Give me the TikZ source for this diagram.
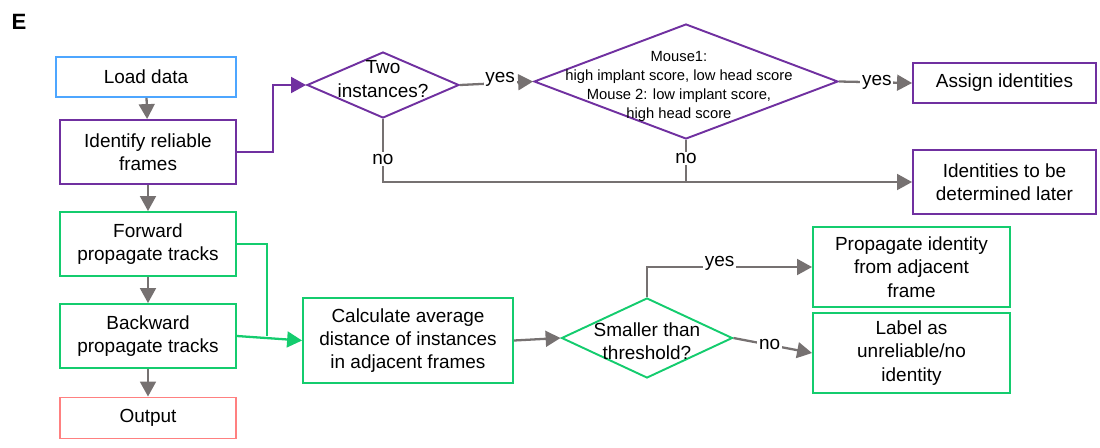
\documentclass[tikz,border=0pt]{standalone}
\usepackage{fontspec}
\setmainfont{Liberation Sans}
\usetikzlibrary{%
	arrows.meta,%
	shapes.geometric%
}
\definecolor{LoadBlue}{HTML}{4DA6FF}
\definecolor{IdPurple}{HTML}{7030A0}
\definecolor{TrackGreen}{HTML}{14CC6E}
\definecolor{OutRed}{HTML}{FF8080}
\definecolor{ArrowGrey}{HTML}{767171}
\tikzset{
	box/.style={draw,line width=1.1pt,align=center,inner sep=2pt},
	decision/.style={draw,shape=diamond,line width=1.1pt,inner sep=0pt},
	flow/.style={draw=ArrowGrey,line width=1.3pt,-{Triangle[length=8.5pt,width=9pt]}},
	cond/.style={fill=white,inner sep=1pt}
}

\begin{document}
\begin{tikzpicture}[x=0.02cm,y=-0.02cm,font=\fontsize{10.8}{13.3}\selectfont]
\useasboundingbox (0,0) rectangle (1100,447);
% Panel letter
\node (panel) at (19,22) {\bfseries\fontsize{12.6}{15}\selectfont E};
% Main column
\node (load) at (146,77) [box,draw=LoadBlue,minimum width=3.6cm,minimum height=0.8cm] {Load data};
\node (ident) at (148,152) [box,draw=IdPurple,minimum width=3.52cm,minimum height=1.28cm] {Identify reliable\\frames};
\node (fwd) at (148,244) [box,draw=TrackGreen,minimum width=3.52cm,minimum height=1.28cm] {Forward\\propagate tracks};
\node (bwd) at (148,336) [box,draw=TrackGreen,minimum width=3.52cm,minimum height=1.28cm] {Backward\\propagate tracks};
\node (out) at (148,418) [box,draw=OutRed,minimum width=3.52cm,minimum height=0.82cm] {Output};
\draw [flow] (load) -- (ident);
\draw [flow] (ident) -- (fwd);
\draw [flow] (fwd) -- (bwd);
\draw [flow] (bwd) -- (out);
% Identity assignment
\node (twoinst) at (383,85) [decision,draw=IdPurple,minimum width=3.04cm,minimum height=1.32cm,
	label={[align=center,yshift=3.4pt]center:Two\\instances?}] {};
\node (mouse) at (686,81.5) [decision,draw=IdPurple,minimum width=6.08cm,minimum height=2.3cm,
	label={[align=center,xshift=-4pt,yshift=-2.7pt,font=\fontsize{8.4}{10.9}\selectfont]center:{Mouse1:\\high implant score, low head score\\Mouse 2: low implant score,\\high head score}}] {};
\node (assign) at (1004.5,83) [box,draw=IdPurple,minimum width=3.66cm,minimum height=0.8cm] {Assign identities};
\node (later) at (1004.5,182) [box,draw=IdPurple,minimum width=3.66cm,minimum height=1.28cm] {Identities to be\\determined later};
\draw [draw=IdPurple,line width=1.3pt,-{Triangle[length=8.5pt,width=9pt]}] (ident.east) -- ++(36,0) |- (twoinst.west);
\draw [flow] (twoinst.east) -- node [cond,pos=0.55,yshift=2pt] {yes} (mouse.west);
\draw [flow] (mouse.east) -- node [cond,pos=0.52] {yes} (assign.west);
\draw [flow] (twoinst.south) |- node [cond,pos=0.32] {no} (later.west);
\draw [draw=ArrowGrey,line width=1.3pt] (mouse.south) -- node [cond,pos=0.44] {no} (mouse.south |- later.west);
% Track propagation
\node (calc) at (408,340.5) [box,draw=TrackGreen,minimum width=4.2cm,minimum height=1.7cm] {Calculate average\\distance of instances\\in adjacent frames};
\node (thr) at (647,338) [decision,draw=TrackGreen,minimum width=3.42cm,minimum height=1.6cm,
	label={[align=center,yshift=-1.7pt]center:Smaller than\\threshold?}] {};
\node (prop) at (911.5,267) [box,draw=TrackGreen,minimum width=3.94cm,minimum height=1.6cm] {Propagate identity\\from adjacent\\frame};
\node (lab) at (911.5,353) [box,draw=TrackGreen,minimum width=3.94cm,minimum height=1.6cm] {Label as\\unreliable/no\\identity};
\draw [draw=TrackGreen,line width=1.1pt] (fwd.east) -- ++(30,0) coordinate (merge) -- (merge |- bwd.east);
\draw [draw=TrackGreen,line width=1.3pt,-{Triangle[length=8.5pt,width=9pt]}] (bwd.east) -- (calc.west);
\draw [flow] (calc.east) -- (thr.west);
\draw [flow] (thr.north) |- node [cond,pos=0.72,yshift=2pt] {yes} (prop.west);
\draw [flow] (thr.east) -- node [cond,pos=0.46] {no} (lab.west);
\end{tikzpicture}
\end{document}
